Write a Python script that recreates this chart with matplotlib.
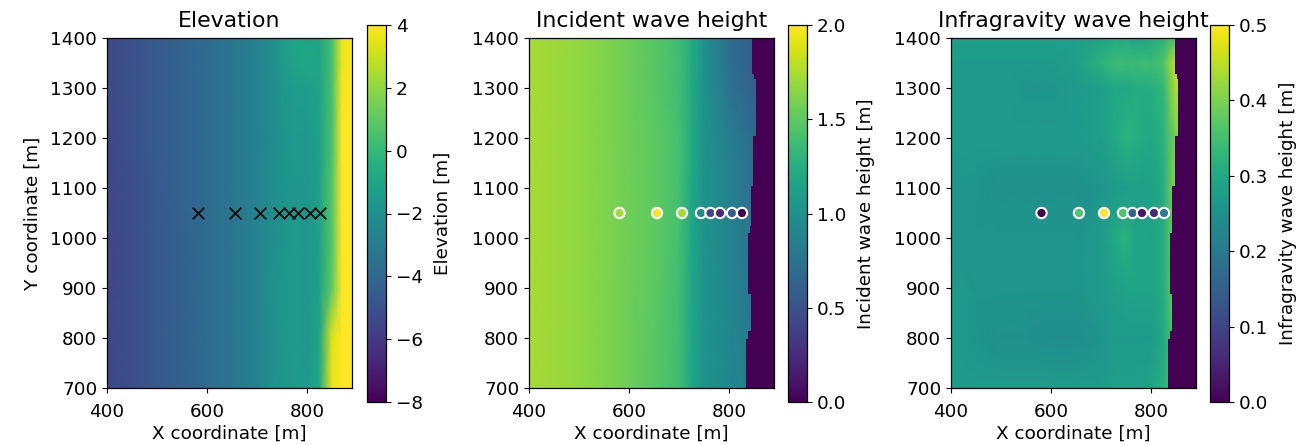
import matplotlib
matplotlib.use('Agg')
import matplotlib.pyplot as plt
import numpy as np

#pontos de leitura da grade (x e y em metros)
x_nos = [400, 450, 500, 550, 600, 650, 700, 725, 750, 775, 800, 825, 850, 870, 890]
y_nos = [700, 800, 900, 1000, 1100, 1200, 1300, 1350, 1400]

elevacao = [
    [-5.4, -5.1, -4.7, -4.3, -3.8, -3.3, -2.7, -2.1, -1.7, -1.5, -1.5, -0.8, 3.6, 4.2, 4.2],
    [-5.4, -5.1, -4.7, -4.3, -3.8, -3.3, -2.7, -2.1, -1.7, -1.6, -1.7, -1.0, 3.4, 4.2, 4.2],
    [-5.5, -5.1, -4.7, -4.3, -3.8, -3.3, -2.7, -2.0, -1.7, -1.6, -1.7, -1.1, 1.0, 4.0, 4.2],
    [-5.5, -5.1, -4.7, -4.3, -3.8, -3.3, -2.7, -2.1, -1.8, -1.6, -1.7, -1.1, 0.8, 4.0, 4.2],
    [-5.4, -5.1, -4.7, -4.2, -3.8, -3.3, -2.7, -2.2, -1.8, -1.7, -1.7, -1.1, 0.8, 4.0, 4.2],
    [-5.4, -5.0, -4.6, -4.2, -3.8, -3.3, -2.7, -2.3, -1.8, -1.6, -1.6, -1.2, 0.5, 4.0, 4.2],
    [-5.3, -5.0, -4.6, -4.2, -3.8, -3.3, -2.7, -2.2, -1.7, -1.4, -1.3, -1.1, 0.5, 3.8, 4.2],
    [-5.3, -5.0, -4.6, -4.2, -3.8, -3.3, -2.7, -2.1, -1.5, -1.0, -0.9, -1.0, 0.5, 3.6, 4.2],
    [-5.3, -5.0, -4.6, -4.2, -3.8, -3.3, -2.7, -2.1, -1.5, -1.0, -1.0, -1.0, 0.5, 3.6, 4.2],
]

#altura de onda incidente
incidente = [
    [1.74, 1.71, 1.67, 1.62, 1.55, 1.48, 1.38, 1.18, 1.02, 0.98, 0.92, 0.88, 0.8, 0.8, 0.8],
    [1.74, 1.71, 1.67, 1.62, 1.55, 1.48, 1.38, 1.18, 1.02, 0.98, 0.92, 0.86, 0.8, 0.8, 0.8],
    [1.74, 1.71, 1.67, 1.62, 1.55, 1.5, 1.38, 1.18, 1.02, 0.98, 0.92, 0.84, 0.78, 0.78, 0.78],
    [1.74, 1.71, 1.67, 1.62, 1.56, 1.5, 1.4, 1.18, 1.02, 0.97, 0.9, 0.82, 0.76, 0.76, 0.76],
    [1.74, 1.71, 1.67, 1.62, 1.56, 1.5, 1.4, 1.2, 1.02, 0.96, 0.88, 0.8, 0.74, 0.74, 0.74],
    [1.74, 1.71, 1.67, 1.62, 1.55, 1.5, 1.4, 1.22, 1.02, 0.95, 0.85, 0.78, 0.7, 0.7, 0.7],
    [1.74, 1.71, 1.67, 1.62, 1.55, 1.48, 1.38, 1.22, 1.02, 0.9, 0.76, 0.68, 0.6, 0.6, 0.6],
    [1.74, 1.71, 1.67, 1.62, 1.55, 1.48, 1.38, 1.22, 1.02, 0.88, 0.72, 0.66, 0.6, 0.6, 0.6],
    [1.74, 1.71, 1.67, 1.62, 1.55, 1.48, 1.38, 1.22, 1.02, 0.88, 0.72, 0.66, 0.6, 0.6, 0.6],
]

#altura de onda infragravitacional
infragravidade = [
    [0.27, 0.27, 0.27, 0.27, 0.27, 0.27, 0.27, 0.28, 0.28, 0.28, 0.29, 0.32, 0.36, 0.36, 0.36],
    [0.27, 0.26, 0.25, 0.25, 0.245, 0.245, 0.26, 0.27, 0.27, 0.27, 0.27, 0.3, 0.38, 0.38, 0.38],
    [0.27, 0.26, 0.26, 0.26, 0.26, 0.26, 0.27, 0.28, 0.29, 0.29, 0.29, 0.31, 0.4, 0.4, 0.4],
    [0.26, 0.26, 0.26, 0.26, 0.26, 0.26, 0.27, 0.3, 0.32, 0.29, 0.29, 0.31, 0.4, 0.4, 0.4],
    [0.26, 0.26, 0.25, 0.25, 0.25, 0.25, 0.26, 0.27, 0.28, 0.28, 0.28, 0.31, 0.42, 0.42, 0.42],
    [0.27, 0.27, 0.27, 0.27, 0.27, 0.27, 0.28, 0.3, 0.32, 0.31, 0.3, 0.32, 0.4, 0.4, 0.4],
    [0.27, 0.27, 0.27, 0.26, 0.26, 0.27, 0.28, 0.3, 0.3, 0.31, 0.31, 0.33, 0.44, 0.44, 0.44],
    [0.27, 0.27, 0.27, 0.27, 0.27, 0.28, 0.32, 0.34, 0.34, 0.34, 0.34, 0.36, 0.46, 0.46, 0.46],
    [0.28, 0.28, 0.28, 0.28, 0.28, 0.28, 0.29, 0.3, 0.3, 0.29, 0.3, 0.32, 0.36, 0.36, 0.36],
]

#linha seca (limite da area sem onda)
linha_y = [700, 797, 813, 887, 1010, 1023, 1103, 1203, 1317, 1327, 1400]
linha_inc = [833, 838, 843, 838, 841, 843, 848, 853, 850, 845, 845]
linha_inf = [833, 837, 841, 837, 841, 842, 848, 853, 851, 848, 848]

#sensores
sensores_x = [581, 656, 706, 744, 763, 782, 806, 826]
sensores_y = [1050, 1050, 1050, 1050, 1050, 1050, 1050, 1050]
sensores_inc = [1.72, 1.98, 1.72, 0.95, 0.42, 0.22, 0.56, 0.0]
sensores_inf = [0.0, 0.36, 0.5, 0.36, 0.15, 0.03, 0.06, 0.21]

W, H = 1301, 445
plt.rcParams['font.size'] = 13.2
plt.rcParams['axes.titlesize'] = 15.8
plt.rcParams['axes.linewidth'] = 0.9
fig = plt.figure(figsize=(W / 100, H / 100), dpi=100)


def painel(x0, cx0, campo, vmin, vmax, titulo, rotulo, ticks, ylab=False):
    ax = fig.add_axes([x0 / W, 1 - 388 / H, 245 / W, 350 / H])
    m = ax.pcolormesh(x_nos, y_nos, np.array(campo), cmap='viridis', vmin=vmin, vmax=vmax, shading='gouraud')
    ax.set_xlim(400, 890)
    ax.set_ylim(700, 1400)
    ax.set_xticks([400, 600, 800])
    ax.set_yticks(range(700, 1500, 100))
    ax.tick_params(axis='x', pad=7)
    ax.set_xlabel('X coordinate [m]', labelpad=2.7)
    if ylab:
        ax.set_ylabel('Y coordinate [m]', labelpad=6)
    ax.set_title(titulo, pad=8)
    cax = fig.add_axes([cx0 / W, 1 - 402 / H, 19 / W, 377 / H])
    cb = fig.colorbar(m, cax=cax, ticks=ticks)
    cb.set_label(rotulo, labelpad=8)
    return ax


ax1 = painel(107, 367, elevacao, -8, 4, 'Elevation', 'Elevation [m]', [-8, -6, -4, -2, 0, 2, 4], ylab=True)
ax1.scatter(sensores_x, sensores_y, marker='x', c='black', s=70, linewidths=1.2, zorder=3)

ax2 = painel(529, 788, incidente, 0, 2, 'Incident wave height', 'Incident wave height [m]', [0, 0.5, 1, 1.5, 2])
ax2.fill_betweenx(linha_y, linha_inc, 890, color=plt.cm.viridis(0.0), step='post', lw=0, zorder=2)
ax2.scatter(sensores_x, sensores_y, c=sensores_inc, cmap='viridis', vmin=0, vmax=2, s=55,
            edgecolors='white', linewidths=1.5, zorder=3)

ax3 = painel(951, 1210, infragravidade, 0, 0.5, 'Infragravity wave height', 'Infragravity wave height [m]', [0, 0.1, 0.2, 0.3, 0.4, 0.5])
ax3.fill_betweenx(linha_y, linha_inf, 890, color=plt.cm.viridis(0.0), step='post', lw=0, zorder=2)
ax3.scatter(sensores_x, sensores_y, c=sensores_inf, cmap='viridis', vmin=0, vmax=0.5, s=55,
            edgecolors='white', linewidths=1.5, zorder=3)

fig.savefig('out.png', dpi=100)
